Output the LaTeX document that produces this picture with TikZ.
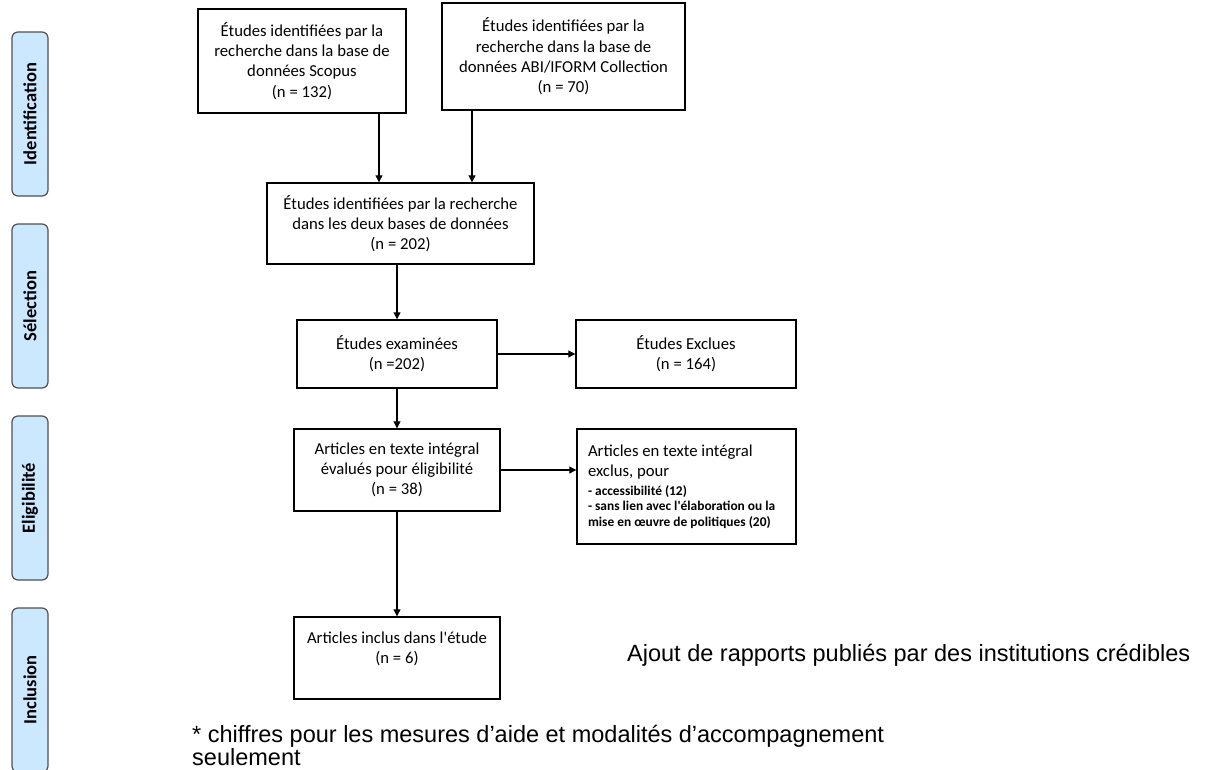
\documentclass[tikz,border=0pt]{standalone}
\usepackage{fontspec}
\setmainfont{Carlito}
\newfontfamily\arial{Liberation Sans}
\usetikzlibrary{arrows.meta}
\definecolor{bleuphase}{RGB}{204,232,255}
\definecolor{bordphase}{RGB}{80,80,80}
\tikzset{
  etape/.style={draw, line width=1.4pt, align=center, inner sep=0pt, font=\fontsize{16.7}{20.3}\selectfont},
  phase/.style={draw=bordphase, fill=bleuphase, line width=1.2pt, rounded corners=6pt, rotate=90, minimum width=164pt, minimum height=36pt, inner sep=0pt, font=\fontsize{18.5}{20}\selectfont\bfseries},
  fleche/.style={-{Triangle[length=7pt,width=7pt]}, line width=1.1pt},
  note/.style={font=\arial\fontsize{23.5}{23}\selectfont, inner sep=0pt, align=left}
}
\begin{document}
\begin{tikzpicture}[x=1pt,y=-1pt]
\useasboundingbox (0,0) rectangle (1206,770);
% phases
\node[phase] (ident) at (30,114) {Identification};
\node[phase] (select) at (30,306) {Sélection};
\node[phase] (eligib) at (30,498) {Eligibilité};
\node[phase] (inclu) at (30,690) {Inclusion};
% boxes
\node[etape, minimum width=208pt, minimum height=104pt] (scopus) at (302,61) {Études identifiées par la\\recherche dans la base de\\données Scopus\\(n = 132)};
\node[etape, minimum width=243pt, minimum height=107pt] (abi) at (563.5,56.5) {Études identifiées par la\\recherche dans la base de\\données ABI/IFORM Collection\\(n = 70)};
\node[etape, minimum width=267pt, minimum height=81pt] (deux) at (400.5,223.5) {Études identifiées par la recherche\\dans les deux bases de données\\(n = 202)};
\node[etape, minimum width=200pt, minimum height=68pt] (exam) at (397,354) {Études examinées\\(n =202)};
\node[etape, minimum width=220pt, minimum height=68pt] (exclues) at (686,354) {Études Exclues\\(n = 164)};
\node[etape, minimum width=206pt, minimum height=82pt] (evalues) at (397,470) {Articles en texte intégral\\évalués pour éligibilité\\(n = 38)};
\node[etape, align=flush left, text width=197pt, inner xsep=11pt, minimum height=115pt] (exclus) at (686.5,486.5) {Articles en texte intégral\\exclus, pour\par
  {\fontsize{13.4}{15.5}\selectfont\bfseries\vspace{3pt}- accessibilité (12)\\- sans lien avec l\textquotesingle élaboration ou la\\mise en œuvre de politiques (20)\par}};
\node[etape, minimum width=206pt, minimum height=82pt] (inclus) at (397,658) {Articles inclus dans l\textquotesingle étude\\(n = 6)\\ };
% arrows
\draw[fleche] ([xshift=77pt]scopus.south) -- ([xshift=77pt]scopus.south |- deux.north);
\draw[fleche] ([xshift=-91.5pt]abi.south) -- ([xshift=-91.5pt]abi.south |- deux.north);
\draw[fleche] (deux.south -| exam.north) -- (exam.north);
\draw[fleche] (exam.south) -- (evalues.north);
\draw[fleche] (evalues.south) -- (inclus.north);
\draw[fleche] (exam.east) -- (exclues.west);
\draw[fleche] (evalues.east) -- (evalues.east -| exclus.west);
% notes
\node[note, anchor=base west] (ajout) at (627,661) {Ajout de rapports publiés par des institutions crédibles};
\node[note, anchor=north west] (chiffres) at (192,724.5) {* chiffres pour les mesures d’aide et modalités d’accompagnement\\seulement};
\end{tikzpicture}
\end{document}
